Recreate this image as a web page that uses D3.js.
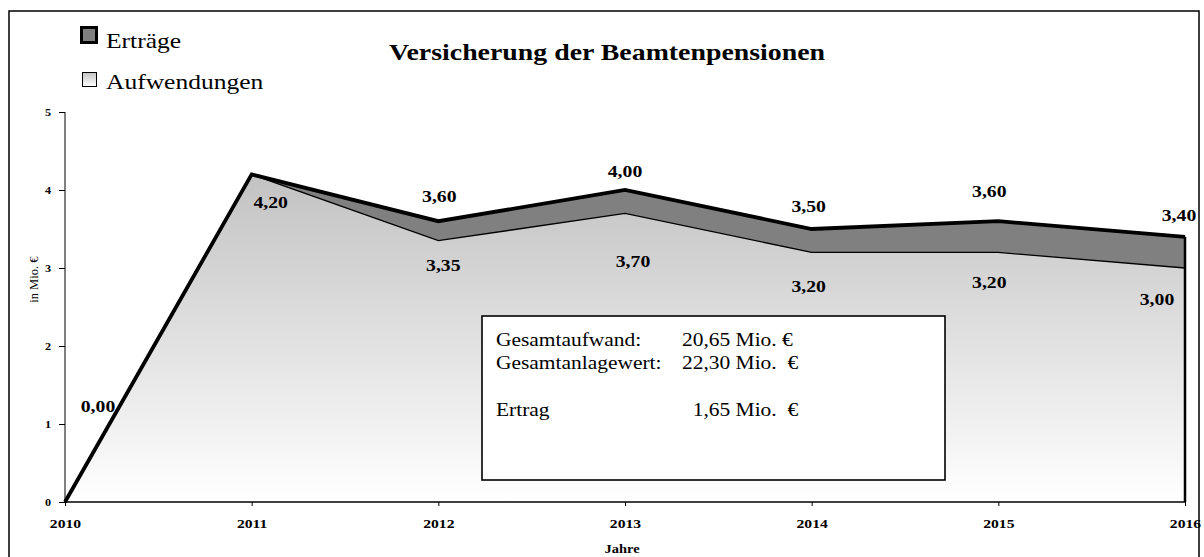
<!DOCTYPE html>
<html>
<head>
<meta charset="utf-8">
<script src="https://cdn.jsdelivr.net/npm/d3@7"></script>
<style>
  body { margin: 0; background: #fff; }
  svg text { font-family: "Liberation Serif", "Times New Roman", serif; }
</style>
</head>
<body>
<div id="wrapper"></div>
<script>
// Data
const years = [2010, 2011, 2012, 2013, 2014, 2015, 2016];
const ertraege = [0, 4.2, 3.6, 4.0, 3.5, 3.6, 3.4]; // upper line (Anlagewert)
const aufwendungen = [0, 4.2, 3.35, 3.7, 3.2, 3.2, 3.0];
const yTicks = [0, 1, 2, 3, 4, 5];
const summaryLabels = ["Gesamtaufwand:", "Gesamtanlagewert:", "", "Ertrag"];
const summaryValues = ["20,65 Mio. €", "22,30 Mio.  €", "", "  1,65 Mio.  €"];

const fmt = (v) => v.toFixed(2).replace(".", ",");
const SX = 1.16; // the original text is a bit wider than Times

function drawChart() {
  const dimensions = {
    width: 1204,
    height: 557,
    margin: { top: 112, right: 19, bottom: 55, left: 65 },
  };
  dimensions.boundedWidth = dimensions.width - dimensions.margin.left - dimensions.margin.right;
  dimensions.boundedHeight = dimensions.height - dimensions.margin.top - dimensions.margin.bottom;

  const svg = d3.select("#wrapper").append("svg")
    .attr("width", dimensions.width)
    .attr("height", dimensions.height);

  // helper: text stretched horizontally around its anchor
  const wideText = (parent, x, y) => parent.append("g")
    .attr("transform", `translate(${x},${y}) scale(${SX},1)`)
    .append("text");

  // outer frame
  svg.append("rect")
    .attr("x", 9).attr("y", 11)
    .attr("width", 1190).attr("height", 560)
    .attr("fill", "none").attr("stroke", "#000").attr("stroke-width", 1.5);

  const defs = svg.append("defs");
  ["aufGrad", "legGrad"].forEach((id) => {
    const g = defs.append("linearGradient")
      .attr("id", id).attr("x1", 0).attr("y1", 0).attr("x2", 0).attr("y2", 1);
    g.append("stop").attr("offset", "0%").attr("stop-color", "#c2c2c2");
    g.append("stop").attr("offset", "100%").attr("stop-color", "#ffffff");
  });

  const bounds = svg.append("g")
    .attr("transform", `translate(${dimensions.margin.left},${dimensions.margin.top})`);

  // Scales
  const xScale = d3.scaleLinear()
    .domain(d3.extent(years))
    .range([0, dimensions.boundedWidth]);
  const yScale = d3.scaleLinear()
    .domain([0, 5])
    .range([dimensions.boundedHeight, 0]);

  const idx = d3.range(years.length);
  const last = years.length - 1;

  // Aufwendungen area (gradient)
  const areaLow = d3.area()
    .x((i) => xScale(years[i]))
    .y0(yScale(0))
    .y1((i) => yScale(aufwendungen[i]));
  bounds.append("path")
    .attr("d", areaLow(idx))
    .attr("fill", "url(#aufGrad)");

  // Erträge band
  const areaBand = d3.area()
    .x((i) => xScale(years[i]))
    .y0((i) => yScale(aufwendungen[i]))
    .y1((i) => yScale(ertraege[i]));
  bounds.append("path")
    .attr("d", areaBand(idx))
    .attr("fill", "#808080");

  // lower line
  const lineLow = d3.line()
    .x((i) => xScale(years[i]))
    .y((i) => yScale(aufwendungen[i]));
  bounds.append("path")
    .attr("d", lineLow(idx))
    .attr("fill", "none").attr("stroke", "#000").attr("stroke-width", 1.3);

  // Axes
  const yAxis = bounds.append("g")
    .call(d3.axisLeft(yScale).tickValues(yTicks).tickSize(6).tickPadding(6).tickFormat(d3.format("d")));
  yAxis.select(".domain").attr("stroke", "#000").attr("d", `M0,${yScale(5)}V${yScale(0)}`);
  yAxis.selectAll("text")
    .attr("transform", `scale(${SX},1)`)
    .style("font-family", "Liberation Serif").style("font-weight", "bold").style("font-size", "10.5px");

  const xAxis = bounds.append("g")
    .attr("transform", `translate(0,${dimensions.boundedHeight})`)
    .call(d3.axisBottom(xScale).tickValues(years).tickSize(4).tickPadding(12).tickFormat(d3.format("d")));
  xAxis.select(".domain").attr("stroke", "#000").attr("stroke-width", 1.5)
    .attr("d", `M0,0H${dimensions.boundedWidth}`);
  xAxis.selectAll("text")
    .attr("transform", `scale(${SX},1)`)
    .style("font-family", "Liberation Serif").style("font-weight", "bold").style("font-size", "13.5px");

  // right edge of the area
  bounds.append("line")
    .attr("x1", xScale(years[last])).attr("x2", xScale(years[last]))
    .attr("y1", yScale(ertraege[last])).attr("y2", yScale(0))
    .attr("stroke", "#000").attr("stroke-width", 2.5);

  // upper line
  const lineTop = d3.line()
    .x((i) => xScale(years[i]))
    .y((i) => yScale(ertraege[i]));
  bounds.append("path")
    .attr("d", lineTop(idx))
    .attr("fill", "none").attr("stroke", "#000").attr("stroke-width", 3.8)
    .attr("stroke-linejoin", "miter");

  // axis labels
  svg.append("text")
    .attr("transform", `translate(38,${dimensions.margin.top + yScale(2.85)}) rotate(-90)`)
    .attr("text-anchor", "middle")
    .style("font-size", "12.5px")
    .text("in Mio. €");
  wideText(svg, 622, 553)
    .attr("text-anchor", "middle")
    .style("font-size", "12.5px").style("font-weight", "bold")
    .text("Jahre");

  // Value labels: [dx, dy] of label centre/baseline relative to the point
  const topOffsets = [null, null, [1, -19], [0, -13], [-3, -17], [-9, -24], [-6, -16]];
  const lowOffsets = [[33, -90], [19, 34], [5, 30], [8, 54], [-3, 40], [-9, 36], [-28, 37]];
  const valueLabel = (x, y, v) => wideText(bounds, x, y)
    .attr("text-anchor", "middle")
    .style("font-size", "17px").style("font-weight", "bold")
    .text(fmt(v));

  idx.forEach((i) => {
    if (topOffsets[i]) {
      valueLabel(xScale(years[i]) + topOffsets[i][0], yScale(ertraege[i]) + topOffsets[i][1], ertraege[i]);
    }
    valueLabel(xScale(years[i]) + lowOffsets[i][0], yScale(aufwendungen[i]) + lowOffsets[i][1], aufwendungen[i]);
  });

  // Title
  wideText(svg, 607, 60)
    .attr("text-anchor", "middle")
    .style("font-size", "24px").style("font-weight", "bold")
    .text("Versicherung der Beamtenpensionen");

  // Legend
  svg.append("rect")
    .attr("x", 81.5).attr("y", 27.5).attr("width", 15).attr("height", 15)
    .attr("fill", "#808080").attr("stroke", "#000").attr("stroke-width", 3);
  wideText(svg, 106, 48).style("font-size", "22px").text("Erträge");
  svg.append("rect")
    .attr("x", 82.5).attr("y", 72.5).attr("width", 14).attr("height", 14)
    .attr("fill", "url(#legGrad)").attr("stroke", "#000").attr("stroke-width", 1);
  wideText(svg, 106, 89).style("font-size", "22px").text("Aufwendungen");

  // Summary box
  const box = svg.append("g");
  box.append("rect")
    .attr("x", 482).attr("y", 316).attr("width", 463).attr("height", 164)
    .attr("fill", "#fff").attr("stroke", "#000").attr("stroke-width", 1.6);
  summaryLabels.forEach((label, r) => {
    const y = 346 + r * 23.4;
    wideText(box, 496, y).style("font-size", "18.5px").text(label);
    wideText(box, 682, y)
      .attr("xml:space", "preserve")
      .style("font-size", "18.5px").style("white-space", "pre")
      .text(summaryValues[r]);
  });
}

drawChart();
</script>
</body>
</html>
